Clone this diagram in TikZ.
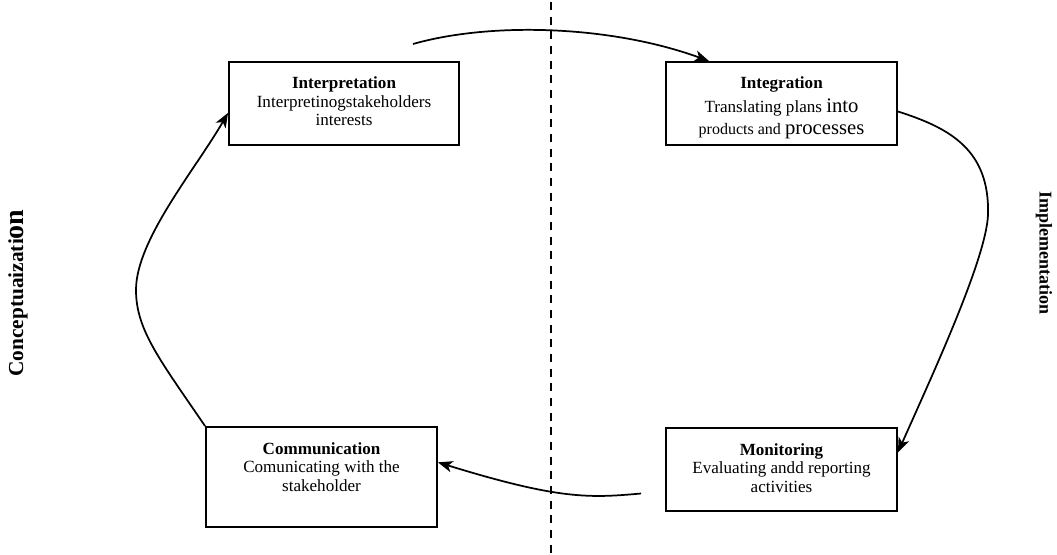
\documentclass[tikz,border=0pt]{standalone}
\usepackage{fontspec}
\setmainfont{Liberation Serif}
\usetikzlibrary{arrows.meta}
\begin{document}
\begin{tikzpicture}[x=0.75pt,y=-0.75pt,
  box/.style 2 args={draw, line width=1.4pt, minimum width=#1*0.75pt, minimum height=#2*0.75pt, inner sep=0pt},
  txt/.style={anchor=north, align=center, inner sep=0pt, font=\fontsize{12.8}{14}\selectfont},
  conn/.style={line width=1.3pt, -{Stealth[length=11pt,width=8.5pt,inset=3pt]}},
  side/.style={font=\bfseries, inner sep=0pt}]
\useasboundingbox (0,0) rectangle (1057,554);
% divider
\coordinate (dtop) at (551,2);
\coordinate (dbot) at (551,554);
\draw[line width=1.2pt, dash pattern=on 6pt off 5pt] (dtop) -- (dbot);
% boxes
\node[box={230}{83}] (interp) at (344,103.5) {};
\node[box={231}{83}] (integ) at (781.5,103.5) {};
\node[box={231}{100}] (comm) at (321.5,477) {};
\node[box={231}{83}] (monit) at (781.5,469.5) {};
% texts
\node[txt] (interpT) at ([yshift=-11.5pt]interp.north) {\textbf{Interpretation}\\Interpretinogstakeholders\\interests};
\node[txt] (integT) at ([yshift=-11.5pt]integ.north) {\textbf{Integration}\\[4pt]Translating plans {\fontsize{15.5}{16}\selectfont into}\\[2.5pt]{\fontsize{12}{14}\selectfont products and} {\fontsize{15.5}{16}\selectfont processes}};
\node[txt] (commT) at ([yshift=-12pt]comm.north) {\textbf{Communication}\\Comunicating with the\\stakeholder};
\node[txt] (monitT) at ([yshift=-12pt]monit.north) {\textbf{Monitoring}\\Evaluating andd reporting\\activities};
% side labels
\node[side, rotate=90] (concept) at (18,293) {\fontsize{16}{18}\selectfont Conceptuaizati{\fontsize{21}{22}\selectfont on}};
\node[side, rotate=-90] (impl) at (1044,253) {\fontsize{13.5}{16}\selectfont Implementation};
% connectors
\coordinate (a1s) at (413,44);
\coordinate (a1e) at ([xshift=33pt]integ.north west);
\draw[conn] (a1s) .. controls (490,22) and (610,25) .. (a1e);
\coordinate (a2s) at ([yshift=-6pt]integ.east);
\coordinate (a2m) at (988,215);
\coordinate (a2e) at ([yshift=-19pt]monit.north east);
\draw[conn] (a2s) .. controls (950,128) and (990,150) .. (a2m) .. controls (986,260) and (930,380) .. (a2e);
\coordinate (a3s) at ([xshift=-18pt,yshift=-18pt]monit.west);
\draw[conn] (a3s) .. controls (590,498) and (560,500) .. ([yshift=11pt]comm.east);
\coordinate (a4m) at (136,290);
\draw[conn] (comm.north west) .. controls (160,360) and (136,330) .. (a4m) .. controls (136,240) and (195,170) .. ([yshift=-7pt]interp.west);
\end{tikzpicture}
\end{document}
